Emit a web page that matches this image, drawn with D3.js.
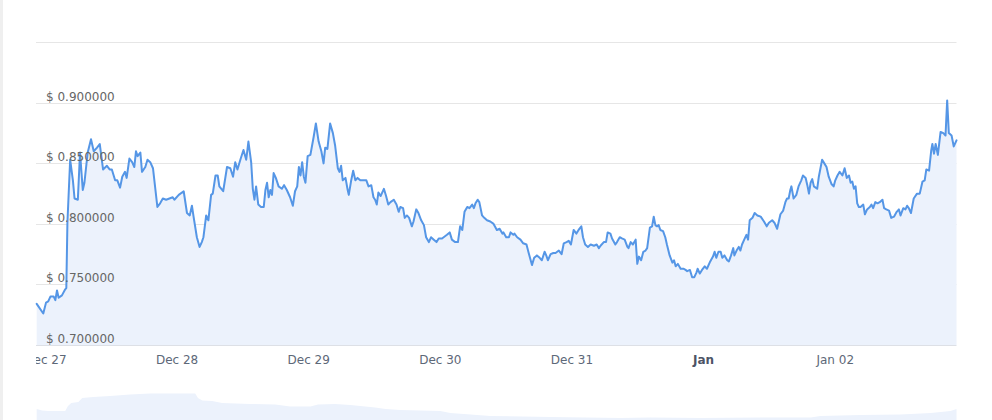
<!DOCTYPE html>
<html>
<head>
<meta charset="utf-8">
<script src="https://cdn.jsdelivr.net/npm/d3@7"></script>
<style>
  html, body { margin: 0; padding: 0; background: #fff; }
  svg { display: block; font-family: "DejaVu Sans", Verdana, sans-serif; }
</style>
</head>
<body>
<svg id="chart" width="992" height="420"></svg>
<script>
// origin of the hour offsets below
var t0 = new Date(2021, 11, 27, 0, 24);

// price, hours from t0
var hours = [
  -1.9, -0.7, -0.2, 0.2, 0.6, 1.2, 1.5, 1.8, 2.1, 2.7, 3.3, 3.5, 3.7, 4.2, 4.7, 5.0, 5.6, 6.0, 6.5, 6.8,
  7.4, 8.0, 8.5, 9.1, 9.6, 10.2, 10.9, 11.4, 11.8, 12.4, 12.8, 13.3, 13.7, 14.2, 14.5, 15.0, 15.5, 15.9, 16.2, 16.5,
  17.0, 17.3, 17.9, 18.3, 18.8, 19.3, 20.1, 20.6, 21.1, 21.7, 22.3, 22.9, 23.2, 24.0, 24.9, 25.5, 26.0, 26.4, 26.7, 27.3,
  27.8, 28.2, 28.5, 29.0, 29.4, 29.9, 30.2, 30.7, 31.1, 31.4, 32.1, 32.8, 33.4, 33.9, 34.3, 34.7, 35.3, 35.8, 36.3, 36.7,
  37.2, 37.5, 37.8, 38.1, 38.5, 39.0, 39.5, 39.8, 40.1, 40.4, 40.7, 41.0, 41.3, 41.7, 42.2, 42.8, 43.2, 43.7, 44.3, 44.8,
  45.2, 45.6, 45.9, 46.2, 46.5, 46.8, 47.1, 47.5, 48.0, 48.6, 49.0, 49.5, 50.0, 50.4, 50.7, 51.1, 51.6, 52.1, 52.5, 53.0,
  53.3, 53.6, 53.9, 54.4, 54.8, 55.0, 55.4, 55.8, 56.2, 56.6, 57.1, 57.7, 58.2, 58.6, 59.1, 59.5, 59.8, 60.1, 60.4, 60.8,
  61.4, 61.8, 62.2, 62.6, 63.2, 63.7, 64.1, 64.4, 64.9, 65.2, 65.6, 66.0, 66.5, 66.8, 67.3, 67.7, 68.2, 68.7, 69.1, 69.6,
  70.0, 70.5, 71.0, 71.4, 72.0, 72.3, 72.9, 73.4, 73.8, 74.4, 74.9, 75.3, 75.7, 76.1, 76.6, 77.0, 77.5, 77.8, 78.1, 78.5,
  78.8, 79.3, 79.7, 80.2, 80.8, 81.4, 82.0, 82.5, 83.0, 83.2, 83.7, 84.2, 84.5, 85.0, 85.2, 85.7, 86.3, 86.8, 87.4, 87.8,
  88.4, 88.8, 89.3, 89.8, 90.2, 90.7, 91.0, 91.3, 91.8, 92.3, 92.7, 93.3, 93.8, 94.2, 94.7, 95.1, 95.5, 96.0, 96.5, 96.9,
  97.4, 97.7, 98.1, 98.6, 99.1, 99.7, 100.2, 100.6, 100.9, 101.5, 101.9, 102.2, 102.7, 103.0, 103.6, 103.9, 104.4, 104.8, 105.3, 105.8,
  106.0, 106.4, 106.8, 107.3, 107.6, 107.9, 108.3, 108.7, 109.1, 109.4, 109.9, 110.3, 110.6, 110.9, 111.2, 111.5, 111.8, 112.3, 112.7, 113.0,
  113.5, 114.0, 114.3, 114.6, 115.0, 115.5, 116.0, 116.4, 116.7, 117.2, 117.6, 118.0, 118.4, 118.6, 119.0, 119.4, 119.9, 120.3, 120.9, 121.4,
  121.7, 122.0, 122.4, 122.8, 123.1, 123.5, 124.0, 124.3, 124.7, 125.1, 125.3, 125.7, 126.1, 126.4, 126.7, 127.2, 127.5, 127.8, 128.1, 128.6,
  129.0, 129.5, 130.1, 130.7, 131.2, 131.6, 132.2, 132.6, 133.1, 133.7, 134.2, 134.6, 134.9, 135.2, 135.5, 135.7, 136.1, 136.6, 137.0, 137.5,
  137.8, 138.3, 138.6, 138.9, 139.2, 139.5, 139.8, 140.4, 140.7, 141.0, 141.3, 141.7, 142.1, 142.5, 143.0, 143.4, 143.7, 144.1, 144.5, 145.0,
  145.4, 145.8, 146.2, 146.5, 146.8, 147.1, 147.4, 147.7, 148.0, 148.3, 148.8, 149.1, 149.5, 150.0, 150.3, 150.6, 151.0, 151.4, 151.8, 152.3,
  152.6, 153.0, 153.5, 153.9, 154.4, 154.9, 155.3, 155.6, 156.1, 156.5, 156.8, 157.1, 157.5, 158.0, 158.6, 159.1, 159.6, 160.0, 160.3, 160.8,
  161.2, 161.4, 161.7, 162.0, 162.4, 162.9, 163.4, 163.8, 164.1, 164.4, 164.9, 165.3, 165.8
];

var prices = [
  0.734, 0.726, 0.735, 0.736, 0.740, 0.740, 0.737, 0.745, 0.739, 0.741, 0.746, 0.747, 0.801, 0.853, 0.836, 0.821, 0.820, 0.859, 0.828, 0.834,
  0.859, 0.870, 0.860, 0.863, 0.866, 0.845, 0.848, 0.845, 0.845, 0.836, 0.836, 0.830, 0.839, 0.843, 0.838, 0.854, 0.851, 0.847, 0.860, 0.856,
  0.859, 0.843, 0.847, 0.853, 0.851, 0.846, 0.814, 0.817, 0.821, 0.820, 0.821, 0.822, 0.820, 0.824, 0.827, 0.809, 0.807, 0.815, 0.806, 0.789,
  0.781, 0.785, 0.789, 0.807, 0.803, 0.824, 0.825, 0.840, 0.840, 0.831, 0.827, 0.847, 0.846, 0.839, 0.851, 0.845, 0.854, 0.861, 0.853, 0.868,
  0.851, 0.829, 0.820, 0.831, 0.816, 0.814, 0.814, 0.828, 0.834, 0.822, 0.828, 0.824, 0.842, 0.838, 0.831, 0.829, 0.832, 0.828, 0.822, 0.815,
  0.827, 0.831, 0.847, 0.840, 0.851, 0.839, 0.834, 0.856, 0.857, 0.872, 0.883, 0.868, 0.860, 0.850, 0.863, 0.862, 0.883, 0.875, 0.865, 0.846,
  0.843, 0.848, 0.836, 0.838, 0.828, 0.824, 0.835, 0.844, 0.836, 0.838, 0.836, 0.836, 0.836, 0.831, 0.832, 0.822, 0.820, 0.816, 0.826, 0.823,
  0.829, 0.823, 0.816, 0.818, 0.820, 0.816, 0.810, 0.814, 0.813, 0.805, 0.807, 0.805, 0.798, 0.802, 0.812, 0.809, 0.803, 0.799, 0.789, 0.785,
  0.789, 0.787, 0.785, 0.788, 0.788, 0.789, 0.791, 0.793, 0.787, 0.785, 0.785, 0.798, 0.795, 0.810, 0.814, 0.813, 0.816, 0.813, 0.817, 0.820,
  0.818, 0.807, 0.805, 0.803, 0.802, 0.800, 0.795, 0.796, 0.792, 0.793, 0.789, 0.789, 0.793, 0.791, 0.792, 0.789, 0.787, 0.784, 0.783, 0.776,
  0.766, 0.772, 0.774, 0.772, 0.770, 0.777, 0.774, 0.770, 0.775, 0.776, 0.776, 0.778, 0.775, 0.784, 0.785, 0.786, 0.783, 0.795, 0.792, 0.795,
  0.798, 0.789, 0.783, 0.781, 0.783, 0.782, 0.783, 0.780, 0.782, 0.785, 0.785, 0.793, 0.792, 0.788, 0.783, 0.785, 0.789, 0.788, 0.787, 0.781,
  0.780, 0.785, 0.783, 0.787, 0.767, 0.773, 0.770, 0.777, 0.778, 0.780, 0.797, 0.798, 0.806, 0.799, 0.798, 0.799, 0.795, 0.794, 0.789, 0.783,
  0.774, 0.768, 0.770, 0.765, 0.767, 0.763, 0.763, 0.762, 0.761, 0.762, 0.756, 0.756, 0.760, 0.763, 0.759, 0.762, 0.765, 0.763, 0.769, 0.773,
  0.777, 0.772, 0.777, 0.777, 0.772, 0.774, 0.770, 0.769, 0.774, 0.780, 0.774, 0.778, 0.781, 0.778, 0.783, 0.788, 0.791, 0.787, 0.803, 0.805,
  0.809, 0.807, 0.806, 0.802, 0.798, 0.801, 0.803, 0.801, 0.796, 0.808, 0.811, 0.818, 0.821, 0.821, 0.828, 0.831, 0.821, 0.824, 0.831, 0.836,
  0.840, 0.838, 0.832, 0.825, 0.834, 0.837, 0.831, 0.829, 0.839, 0.846, 0.853, 0.850, 0.847, 0.839, 0.833, 0.831, 0.836, 0.840, 0.843, 0.840,
  0.846, 0.838, 0.840, 0.834, 0.835, 0.829, 0.831, 0.817, 0.814, 0.814, 0.816, 0.808, 0.812, 0.814, 0.816, 0.813, 0.818, 0.817, 0.818, 0.820,
  0.813, 0.812, 0.811, 0.805, 0.806, 0.810, 0.812, 0.807, 0.813, 0.812, 0.815, 0.813, 0.809, 0.821, 0.825, 0.825, 0.835, 0.836, 0.845, 0.844,
  0.861, 0.866, 0.858, 0.866, 0.857, 0.876, 0.875, 0.873, 0.902, 0.875, 0.873, 0.864, 0.869
];

// navigator (longer history, own units)
var navHours = [-1.9, -0.9, 0.2, 3.3, 3.8, 4.4, 5.7, 6.4, 8.4, 11.5, 15.1, 18.8, 27.0, 27.5, 28.3, 30.1, 31.9, 37.0, 41.6, 44.3,
  48.0, 49.4, 52.5, 55.3, 59.8, 61.7, 64.4, 71.7, 73.5, 77.2, 80.8, 91.8, 104.5, 110.0, 119.1, 130.1, 139.2, 141.0, 148.3, 155.6,
  161.1, 164.7, 165.8];
var navLevels = [11, 9.5, 9, 9, 14, 17, 18, 22, 23, 24, 25.5, 26.5, 26.5, 22, 19.5, 19, 17, 16, 15.5, 13.5,
  13.5, 15.5, 16, 15, 12.5, 11, 10, 9, 7, 5.5, 4, 3, 2, 2.5, 2, 2.5, 2.5, 4, 5, 5.5,
  7, 9, 11];

var yTicks = [0.70, 0.75, 0.80, 0.85, 0.90, 0.95];
var dayLabels = ['Dec 27', 'Dec 28', 'Dec 29', 'Dec 30', 'Dec 31', 'Jan', 'Jan 02'];

function toDate(h) { return new Date(t0.getTime() + h * 3600e3); }

var series = hours.map(function (h, i) { return { date: toDate(h), value: prices[i] }; });
var nav = navHours.map(function (h, i) { return { date: toDate(h), value: navLevels[i] }; });

var svg = d3.select('#chart');
var plotLeft = 36.7, plotRight = 956.5, plotTop = 42.3, plotBottom = 345;

var x = d3.scaleTime()
  .domain(d3.extent(series, function (d) { return d.date; }))
  .range([plotLeft, plotRight]);
var y = d3.scaleLinear().domain([0.70, 0.95]).range([plotBottom, plotTop]);
var yNav = d3.scaleLinear().domain([0, 40]).range([420, 380]);

// grey strip on the left edge
svg.append('rect').attr('x', 0).attr('y', 0).attr('width', 3).attr('height', 420).attr('fill', '#efefef');

// grid
svg.append('g').selectAll('line').data(yTicks).join('line')
  .attr('x1', plotLeft - 0.7).attr('x2', plotRight)
  .attr('y1', function (d) { return Math.round(y(d)) + 0.5; })
  .attr('y2', function (d) { return Math.round(y(d)) + 0.5; })
  .attr('stroke', function (d) { return d === 0.70 ? '#dde0e6' : '#e6e6e6'; })
  .attr('stroke-width', 1);

// area + line
var area = d3.area().x(function (d) { return x(d.date); }).y0(plotBottom).y1(function (d) { return y(d.value); });
var line = d3.line().x(function (d) { return x(d.date); }).y(function (d) { return y(d.value); });

svg.append('path').datum(series).attr('d', area).attr('fill', '#ecf2fc');
svg.append('path').datum(series).attr('d', line)
  .attr('fill', 'none').attr('stroke', '#5596e6').attr('stroke-width', 2)
  .attr('stroke-linejoin', 'round').attr('stroke-linecap', 'round');

// y labels sit inside the plot, over the grid lines
var fmt = d3.format('.6f');
svg.append('g').selectAll('text').data(yTicks.slice(0, -1)).join('text')
  .attr('x', 46).attr('y', function (d) { return y(d) - 2; })
  .attr('font-size', 12).attr('fill', '#666')
  .text(function (d) { return '$ ' + fmt(d); });

// x axis
var dayTicks = dayLabels.map(function (l, i) { return new Date(2021, 11, 27 + i); });
var xAxis = d3.axisBottom(x).tickValues(dayTicks).tickSize(0).tickPadding(10)
  .tickFormat(function (d, i) { return dayLabels[i]; });
var gx = svg.append('g').attr('transform', 'translate(0,' + plotBottom + ')').call(xAxis);
gx.select('.domain').remove();
gx.selectAll('text')
  .attr('font-family', '"DejaVu Sans", Verdana, sans-serif')
  .attr('font-size', 12)
  .attr('fill', function (d, i) { return dayLabels[i] === 'Jan' ? '#4d5466' : '#5d6878'; })
  .attr('font-weight', function (d, i) { return dayLabels[i] === 'Jan' ? 'bold' : 'normal'; });

// the first label is cut at the plot's left edge
svg.append('rect').attr('x', 3).attr('y', plotBottom + 1).attr('width', plotLeft - 3.7).attr('height', 30).attr('fill', '#fff');

// navigator
var navArea = d3.area().x(function (d) { return x(d.date); }).y0(420).y1(function (d) { return yNav(d.value); });
svg.append('path').datum(nav).attr('d', navArea).attr('fill', '#ecf2fc');
</script>
</body>
</html>
